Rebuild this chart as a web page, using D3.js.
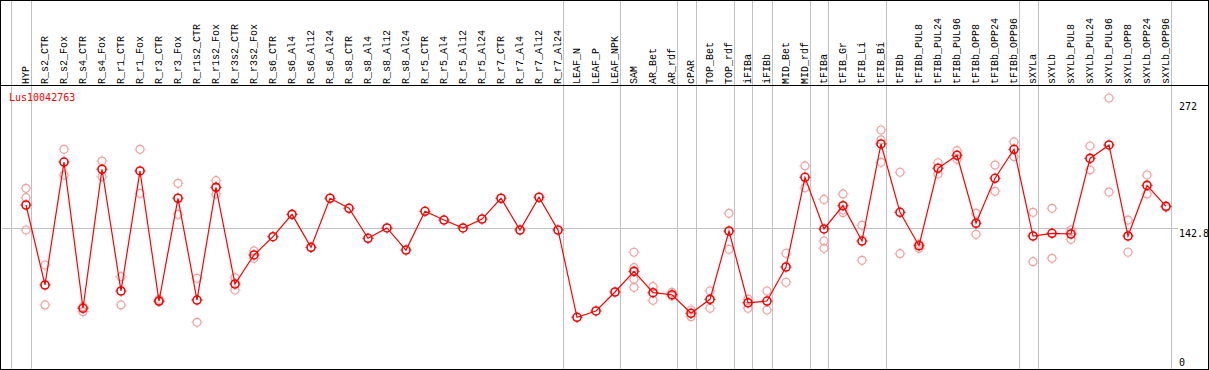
<!DOCTYPE html>
<html>
<head>
<meta charset="utf-8">
<script src="https://cdn.jsdelivr.net/npm/d3@7"></script>
<style>
  html, body { margin: 0; padding: 0; background: #fff; }
  svg { display: block; }
  text { font-family: "DejaVu Sans Mono", monospace; font-size: 10px; }
  .lbl { font-family: "Liberation Mono", "DejaVu Sans Mono", monospace; }
</style>
</head>
<body>
<div id="viz"></div>
<script>
const geneName = "Lus10042763";

const categories = [
  "HYP", "R_s2_CTR", "R_s2_Fox", "R_s4_CTR", "R_s4_Fox", "R_r1_CTR", "R_r1_Fox", "R_r3_CTR", "R_r3_Fox",
  "R_r1s2_CTR", "R_r1s2_Fox", "R_r3s2_CTR", "R_r3s2_Fox", "R_s6_CTR", "R_s6_Al4", "R_s6_Al12", "R_s6_Al24",
  "R_s8_CTR", "R_s8_Al4", "R_s8_Al12", "R_s8_Al24", "R_r5_CTR", "R_r5_Al4", "R_r5_Al12", "R_r5_Al24",
  "R_r7_CTR", "R_r7_Al4", "R_r7_Al12", "R_r7_Al24", "LEAF_N", "LEAF_P", "LEAF_NPK", "SAM", "AR_Bet", "AR_rdf",
  "cPAR", "TOP_Bet", "TOP_rdf", "iFIBa", "iFIBb", "MID_Bet", "MID_rdf", "tFIBa", "tFIB_Gr", "tFIB_Li", "tFIB_Bi",
  "tFIBb", "tFIBb_PUL8", "tFIBb_PUL24", "tFIBb_PUL96", "tFIBb_OPP8", "tFIBb_OPP24", "tFIBb_OPP96",
  "sXYLa", "sXYLb", "sXYLb_PUL8", "sXYLb_PUL24", "sXYLb_PUL96", "sXYLb_OPP8", "sXYLb_OPP24", "sXYLb_OPP96"
];

// mean expression per sample
const means = [
  165.4, 85.7, 208.2, 62.5, 201.0, 79.7, 199.3, 69.7, 172.1,
  70.7, 183.0, 86.7, 115.6, 133.8, 156.1, 123.2, 172.1,
  162.1, 132.2, 142.5, 120.5, 159.1, 150.4, 142.5, 151.4,
  172.1, 140.5, 173.1, 140.5, 53.5, 59.8, 78.7, 99.3, 78.0, 76.0,
  57.5, 71.4, 139.5, 68.0, 69.7, 103.6, 193.0, 141.5, 164.7, 129.5, 226.2,
  158.1, 124.8, 202.0, 214.9, 147.2, 192.0, 220.9,
  134.5, 137.2, 136.5, 211.8, 225.2, 134.5, 184.9, 164.1
];

// individual replicates per sample (empty where none are drawn)
const replicates = [
  [182.0, 172.7, 140.5], [105.6, 65.8], [220.9, 195.3], [64.1, 59.1], [209.2, 193.6], [94.0, 65.8],
  [220.9, 177.0], [71.4, 69.0], [187.0, 156.1], [92.4, 48.5], [189.6, 176.4], [93.0, 80.7], [119.6, 112.3],
  [], [], [], [], [], [], [], [], [], [], [], [], [], [], [], [], [], [], [],
  [118.3, 102.9, 91.4, 83.4], [84.0, 70.4], [78.4, 74.7], [60.8, 54.1], [79.7, 62.5], [157.1, 121.3],
  [71.7, 62.5], [79.7, 60.8], [117.3, 88.4], [204.3, 182.6], [170.9, 129.5, 122.2], [176.4, 160.4, 157.7],
  [145.2, 110.3], [240.1, 230.2, 207.9], [198.0, 116.9], [122.2, 126.5], [207.5, 196.3], [219.5, 210.9],
  [157.1, 136.2], [205.2, 179.0], [228.2, 213.5], [158.1, 108.9], [162.1, 112.3], [140.5, 131.2],
  [224.2, 200.3], [272.0, 178.3], [150.4, 118.3], [195.3, 176.4], [163.1]
];

// index of the last sample in each group; separators are drawn after these
const groupEnds = [-1, 0, 28, 31, 34, 35, 37, 38, 39, 41, 42, 45, 52, 53, 60];

const yTicks = [272, 142.8, 0];

const W = 1209, H = 370;
const headerY = 85, bottomY = 369;

const svg = d3.select('#viz').append('svg')
  .attr('width', W)
  .attr('height', H);

const x = d3.scaleLinear().domain([0, categories.length - 1]).range([26, 1166]);
const y = d3.scaleLinear().domain([0, 272]).range([371, 98]);

// group separators (full height)
svg.append('g')
  .selectAll('line')
  .data(groupEnds)
  .join('line')
  .attr('x1', d => Math.round(x(d) + 4.5) + 0.5)
  .attr('x2', d => Math.round(x(d) + 4.5) + 0.5)
  .attr('y1', 0)
  .attr('y2', H)
  .attr('stroke', '#c0c0c0')
  .attr('stroke-width', 1);

// middle reference line
svg.append('line')
  .attr('x1', 2).attr('x2', 1178)
  .attr('y1', Math.round(y(142.8)) + 0.5)
  .attr('y2', Math.round(y(142.8)) + 0.5)
  .attr('stroke', '#c0c0c0');

// frame
svg.append('rect')
  .attr('x', 0.5).attr('y', 0.5)
  .attr('width', W - 1).attr('height', bottomY)
  .attr('fill', 'none')
  .attr('stroke', '#000');
svg.append('line')
  .attr('x1', 0).attr('x2', W)
  .attr('y1', headerY + 0.5).attr('y2', headerY + 0.5)
  .attr('stroke', '#000');

// sample labels (rotated)
svg.append('g')
  .selectAll('text')
  .data(categories)
  .join('text')
  .attr('class', 'lbl')
  .attr('transform', (d, i) => `translate(${x(i) + 3},${headerY - 1}) rotate(-90)`)
  .attr('fill', '#000')
  .text(d => d);

// y labels on the right
svg.append('g')
  .selectAll('text')
  .data(yTicks)
  .join('text')
  .attr('x', 1179)
  .attr('y', d => d === 0 ? H - 4 : d === 272 ? y(d) + 12 : y(d) + 9.5)
  .attr('fill', '#000')
  .text(d => d);

// gene name
svg.append('text')
  .attr('x', 9)
  .attr('y', 101)
  .attr('fill', '#ff0000')
  .text(geneName);

function marker(g, color, tickColor, sw) {
  g.append('circle')
    .attr('r', 4)
    .attr('fill', 'none')
    .attr('stroke', color)
    .attr('stroke-width', sw);
  g.append('path')
    .attr('d', 'M0,-5.5V-4.5M0,4.5V5.5M-5.5,0H-4.5M4.5,0H5.5')
    .attr('stroke', tickColor)
    .attr('stroke-width', 1);
}

// replicates
const repPoints = [];
replicates.forEach((arr, i) => arr.forEach(v => repPoints.push({ i, v })));
svg.append('g')
  .selectAll('g')
  .data(repPoints)
  .join('g')
  .attr('transform', d => `translate(${x(d.i)},${y(d.v)})`)
  .each(function () { marker(d3.select(this), '#f0a0a0', '#f0a0a0', 1.2); });

// mean line
svg.append('path')
  .datum(means)
  .attr('fill', 'none')
  .attr('stroke', '#ff0000')
  .attr('stroke-width', 1.2)
  .attr('d', d3.line().x((d, i) => x(i)).y(d => y(d)));

// mean markers
svg.append('g')
  .selectAll('g')
  .data(means)
  .join('g')
  .attr('transform', (d, i) => `translate(${x(i)},${y(d)})`)
  .each(function () { marker(d3.select(this), '#ff0000', '#a00000', 1.6); });
</script>
</body>
</html>
